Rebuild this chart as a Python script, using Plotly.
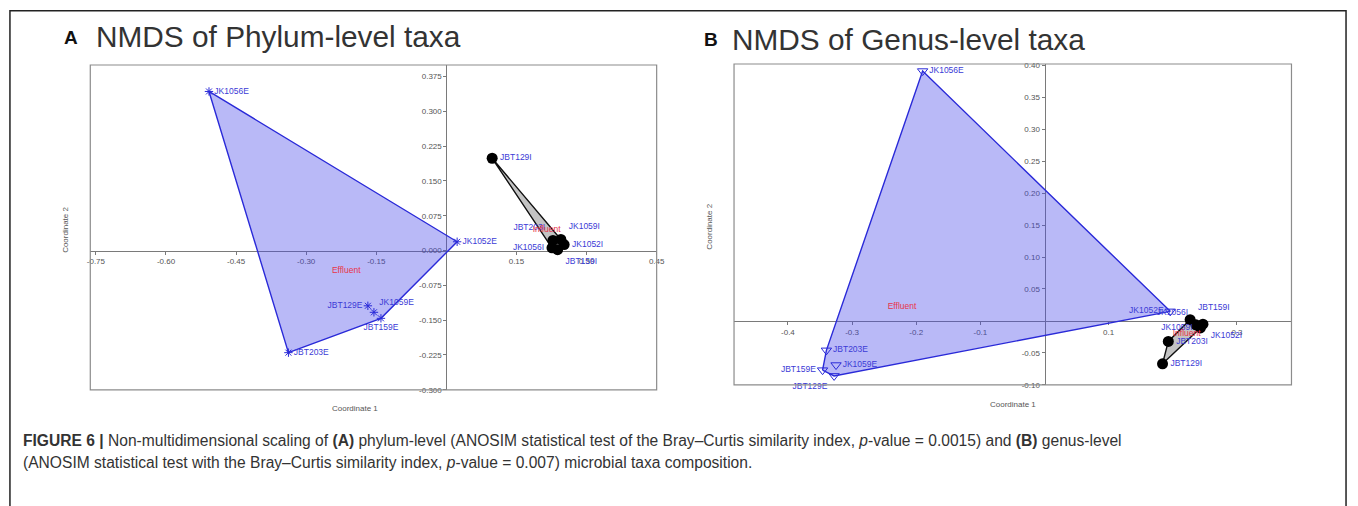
import numpy as np
import plotly.graph_objects as go

W, H = 1358, 506

# ---------------- data ----------------
# Panel A: NMDS of phylum-level taxa
a_eff_names = ["JK1056E", "JK1052E", "JBT203E", "JBT129E", "JK1059E", "JBT159E"]
a_eff_x = [-0.508, 0.023, -0.338, -0.168, -0.155, -0.140]
a_eff_y = [0.343, 0.019, -0.220, -0.119, -0.133, -0.146]

a_inf_names = ["JBT129I", "JBT203I", "JK1059I", "JK1052I", "JK1056I", "JBT159I"]
a_inf_x = [0.098, 0.228, 0.245, 0.252, 0.226, 0.238]
a_inf_y = [0.199, 0.022, 0.024, 0.013, 0.006, 0.002]

a_xticks = [-0.75, -0.60, -0.45, -0.30, -0.15, 0.15, 0.30, 0.45]
a_xtick_text = ["-0.75", "-0.60", "-0.45", "-0.30", "-0.15", "0.15", "0.30", "0.45"]
a_yticks = [0.375, 0.300, 0.225, 0.150, 0.075, 0.0, -0.075, -0.150, -0.225, -0.300]
a_ytick_text = ["0.375", "0.300", "0.225", "0.150", "0.075", "0.000",
                "-0.075", "-0.150", "-0.225", "-0.300"]

# Panel B: NMDS of genus-level taxa
b_eff_names = ["JK1056E", "JBT203E", "JK1059E", "JBT159E", "JBT129E", "JK1052E"]
b_eff_x = [-0.190, -0.340, -0.325, -0.346, -0.328, 0.196]
b_eff_y = [0.391, -0.046, -0.069, -0.077, -0.086, 0.015]

b_inf_names = ["JBT159I", "JK1056I", "JK1059I", "JK1052I", "JBT203I", "JBT129I"]
b_inf_x = [0.227, 0.236, 0.243, 0.247, 0.193, 0.184]
b_inf_y = [0.002, -0.006, -0.011, -0.005, -0.032, -0.067]

b_xticks = [-0.4, -0.3, -0.2, -0.1, 0.1, 0.3]
b_xtick_text = ["-0.4", "-0.3", "-0.2", "-0.1", "0.1", "0.3"]
b_yticks = [0.40, 0.35, 0.30, 0.25, 0.20, 0.15, 0.10, 0.05, -0.05, -0.10]
b_ytick_text = ["0.40", "0.35", "0.30", "0.25", "0.20", "0.15", "0.10", "0.05",
                "-0.05", "-0.10"]

group_names = ["Effluent", "Influent"]

# ---------------- styling ----------------
FONT = "Arial, Liberation Sans, sans-serif"
LABEL_BLUE = "#3b3bd6"
GROUP_RED = "#e8344a"
EFF_FILL = "rgba(70,70,235,0.38)"
EFF_EDGE = "#2a2ad8"
INF_FILL = "rgba(175,175,175,0.75)"
INF_EDGE = "#111111"

A_XR, A_YR = [-0.762, 0.45], [-0.30, 0.40]
B_XR, B_YR = [-0.484, 0.385], [-0.10, 0.402]

# plot areas in pixels (left, top, right, bottom)
A_BOX = (88, 63, 659, 393)
B_BOX = (737, 62, 1299, 388)


def dom(box):
    l, t, r, b = box
    return [l / W, r / W], [1 - b / H, 1 - t / H]


def hull(xs, ys):
    pts = sorted(set(zip(xs, ys)))
    if len(pts) < 3:
        return pts

    def cross(o, a, b):
        return (a[0] - o[0]) * (b[1] - o[1]) - (a[1] - o[1]) * (b[0] - o[0])

    lower, upper = [], []
    for p in pts:
        while len(lower) >= 2 and cross(lower[-2], lower[-1], p) <= 0:
            lower.pop()
        lower.append(p)
    for p in reversed(pts):
        while len(upper) >= 2 and cross(upper[-2], upper[-1], p) <= 0:
            upper.pop()
        upper.append(p)
    ring = lower[:-1] + upper[:-1]
    return ring + [ring[0]]


fig = go.Figure()


def add_group(xs, ys, names, positions, marker, fill, edge, xa, ya, grp):
    ring = hull(xs, ys)
    fig.add_trace(go.Scatter(
        x=[p[0] for p in ring], y=[p[1] for p in ring], mode="lines",
        fill="toself", fillcolor=fill, line=dict(color=edge, width=1.4),
        hoverinfo="skip", showlegend=False, xaxis=xa, yaxis=ya))
    fig.add_trace(go.Scatter(
        x=xs, y=ys, mode="markers+text", text=names, textposition=positions,
        textfont=dict(family=FONT, size=8.5, color=LABEL_BLUE),
        marker=marker, cliponaxis=False, showlegend=False, xaxis=xa, yaxis=ya))
    fig.add_trace(go.Scatter(
        x=[float(np.mean(xs))], y=[float(np.mean(ys))], mode="text", text=[grp],
        textfont=dict(family=FONT, size=8.5, color=GROUP_RED),
        cliponaxis=False, showlegend=False, xaxis=xa, yaxis=ya))


eff_marker_a = dict(symbol="asterisk-open", size=7, color=EFF_EDGE,
                    line=dict(color=EFF_EDGE, width=1))
eff_marker_b = dict(symbol="triangle-down-open", size=9, color=EFF_EDGE,
                    line=dict(color=EFF_EDGE, width=1))
inf_marker = dict(symbol="circle", size=11, color="#000000")

# panel A
add_group(a_eff_x, a_eff_y, a_eff_names,
          ["middle right", "middle right", "middle right", "middle left",
           "top right", "bottom center"],
          eff_marker_a, EFF_FILL, EFF_EDGE, "x", "y", group_names[0])
add_group(a_inf_x, a_inf_y, a_inf_names,
          ["middle right", "top left", "top right", "middle right",
           "middle left", "bottom right"],
          inf_marker, INF_FILL, INF_EDGE, "x", "y", group_names[1])

# panel B
add_group(b_eff_x, b_eff_y, b_eff_names,
          ["middle right", "middle right", "middle right", "middle left",
           "bottom left", "middle left"],
          eff_marker_b, EFF_FILL, EFF_EDGE, "x2", "y2", group_names[0])
add_group(b_inf_x, b_inf_y, b_inf_names,
          ["top right", "top left", "middle left", "bottom right",
           "middle right", "middle right"],
          inf_marker, INF_FILL, INF_EDGE, "x2", "y2", group_names[1])

# ---------------- axes crossing at the origin ----------------
tickfont = dict(family=FONT, size=8, color="#555555")


def axis_pair(box, xr, yr, xt, xtt, yt, ytt):
    xd, yd = dom(box)
    xpos = yd[0] + (0 - yr[0]) / (yr[1] - yr[0]) * (yd[1] - yd[0])
    ypos = xd[0] + (0 - xr[0]) / (xr[1] - xr[0]) * (xd[1] - xd[0])
    xa = dict(domain=xd, range=xr, anchor="free", position=xpos,
              showline=True, linecolor="#7a7a7a", linewidth=1,
              ticks="outside", ticklen=3, tickcolor="#7a7a7a",
              tickvals=xt, ticktext=xtt, tickfont=tickfont,
              showgrid=False, zeroline=False, layer="below traces")
    ya = dict(domain=yd, range=yr, anchor="free", position=ypos,
              showline=True, linecolor="#7a7a7a", linewidth=1,
              ticks="outside", ticklen=3, tickcolor="#7a7a7a",
              tickvals=yt, ticktext=ytt, tickfont=tickfont,
              showgrid=False, zeroline=False, layer="below traces")
    return xa, ya


xa1, ya1 = axis_pair(A_BOX, A_XR, A_YR, a_xticks, a_xtick_text, a_yticks, a_ytick_text)
xa2, ya2 = axis_pair(B_BOX, B_XR, B_YR, b_xticks, b_xtick_text, b_yticks, b_ytick_text)

shapes = [
    dict(type="rect", xref="x domain", yref="y domain", x0=0, x1=1, y0=0, y1=1,
         line=dict(color="#8c8c8c", width=1.2), layer="above"),
    dict(type="rect", xref="x2 domain", yref="y2 domain", x0=0, x1=1, y0=0, y1=1,
         line=dict(color="#8c8c8c", width=1.2), layer="above"),
    dict(type="rect", xref="paper", yref="paper", x0=7 / W, x1=1354 / W,
         y0=-0.2, y1=1 - 8 / H, line=dict(color="#222222", width=1.5)),
]


def ann(text, px, py, size, color="#333333", xanchor="left", angle=0, family=FONT):
    return dict(text=text, x=px / W, y=1 - py / H, xref="paper", yref="paper",
                xanchor=xanchor, yanchor="middle", showarrow=False, textangle=angle,
                font=dict(family=family, size=size, color=color))


annotations = [
    ann("<b>A</b>", 59, 35, 19, "#111111"),
    ann("NMDS of Phylum-level taxa", 92, 34, 29.8, "#333333"),
    ann("<b>B</b>", 705, 37, 19, "#111111"),
    ann("NMDS of Genus-level taxa", 733, 37, 29.8, "#333333"),
    ann("Coordinate 2", 63, 230, 8, "#555555", xanchor="center", angle=-90),
    ann("Coordinate 1", 355, 412, 8, "#555555", xanchor="center"),
    ann("Coordinate 2", 712, 227, 8, "#555555", xanchor="center", angle=-90),
    ann("Coordinate 1", 1018, 408, 8, "#555555", xanchor="center"),
    ann("<b>FIGURE 6 |</b> Non-multidimensional scaling of <b>(A)</b> phylum-level "
        "(ANOSIM statistical test of the Bray\u2013Curtis similarity index, "
        "<i>p</i>-value = 0.0015) and <b>(B)</b> genus-level",
        18, 445, 15.6, "#333333"),
    ann("(ANOSIM statistical test with the Bray\u2013Curtis similarity index, "
        "<i>p</i>-value = 0.007) microbial taxa composition.",
        18, 467, 15.6, "#333333"),
]

fig.update_layout(
    width=W, height=H, margin=dict(l=0, r=0, t=0, b=0),
    paper_bgcolor="white", plot_bgcolor="white",
    xaxis=xa1, yaxis=ya1, xaxis2=xa2, yaxis2=ya2,
    shapes=shapes, annotations=annotations, showlegend=False,
)

fig.write_html("out.html")
